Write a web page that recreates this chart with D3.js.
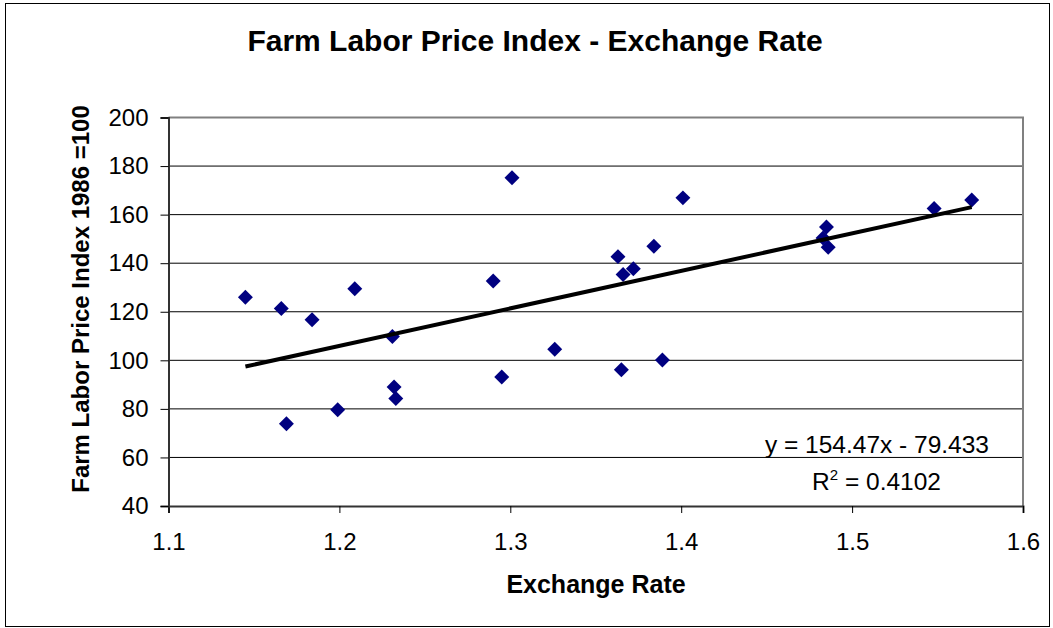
<!DOCTYPE html>
<html>
<head>
<meta charset="utf-8">
<script src="https://cdn.jsdelivr.net/npm/d3@7"></script>
<style>
  body { margin: 0; background: #fff; }
  svg { display: block; font-family: "Liberation Sans", Arial, sans-serif; }
</style>
</head>
<body>
<svg id="chart"></svg>
<script>
// data
let exchangeRate = [1.145, 1.166, 1.184, 1.209, 1.231, 1.232, 1.233, 1.169, 1.199,
                    1.290, 1.301, 1.295, 1.326, 1.365, 1.363, 1.372, 1.366, 1.384,
                    1.389, 1.401, 1.485, 1.483, 1.486, 1.548, 1.570]
let laborIndex = [126.0, 121.3, 116.7, 129.5, 109.8, 89.0, 84.3, 73.9, 79.6,
                  132.7, 175.2, 93.1, 104.6, 96.1, 142.7, 137.7, 135.3, 147.0,
                  100.1, 166.9, 154.9, 150.4, 146.6, 162.5, 166.0]

let xTicks = [1.1, 1.2, 1.3, 1.4, 1.5, 1.6]
let yTicks = [40, 60, 80, 100, 120, 140, 160, 180, 200]

let slope = 154.47
let intercept = -79.433
let rSquared = '0.4102'

let width = 1053
let height = 628
let plotLeft = 168.5, plotRight = 1023, plotTop = 117.5, plotBottom = 506

let data = exchangeRate.map((x, i) => ({x: x, y: laborIndex[i]}))

let svg = d3.select('#chart')
    .attr('width', width)
    .attr('height', height)

// outer chart border
svg.append('rect')
    .attr('x', 5.5).attr('y', 3.5)
    .attr('width', 1044).attr('height', 623)
    .attr('fill', '#fff')
    .attr('stroke', '#000')
    .attr('stroke-width', 1)

let xScale = d3.scaleLinear().domain([1.1, 1.6]).range([plotLeft, plotRight])
let yScale = d3.scaleLinear().domain([40, 200]).range([plotBottom, plotTop])

// gridlines
svg.append('g')
    .selectAll('line')
    .data(yTicks.filter(d => d > 40 && d < 200))
    .enter()
    .append('line')
    .attr('x1', plotLeft).attr('x2', plotRight)
    .attr('y1', d => yScale(d)).attr('y2', d => yScale(d))
    .attr('stroke', '#000')
    .attr('stroke-width', 1)

// plot frame top / right (gray)
svg.append('path')
    .attr('d', 'M' + plotLeft + ',' + plotTop + 'H' + plotRight + 'V' + plotBottom)
    .attr('fill', 'none')
    .attr('stroke', '#808080')
    .attr('stroke-width', 2)

let xAxis = d3.axisBottom(xScale).tickValues(xTicks).tickFormat(d3.format('.1f')).tickSizeOuter(0).tickSize(7).tickPadding(20)
let gx = svg.append('g')
    .attr('transform', 'translate(0,' + plotBottom + ')')
    .call(xAxis)
gx.select('.domain').attr('stroke', '#333').attr('stroke-width', 2)
gx.selectAll('.tick line').attr('stroke', '#000')
gx.selectAll('text').attr('font-size', 24).attr('font-family', '"Liberation Sans", Arial').attr('fill', '#000')

let yAxis = d3.axisLeft(yScale).tickValues(yTicks).tickSizeOuter(0).tickSize(8).tickPadding(12)
let gy = svg.append('g')
    .attr('transform', 'translate(' + plotLeft + ',0)')
    .call(yAxis)
gy.select('.domain').attr('stroke', '#333').attr('stroke-width', 2)
gy.selectAll('.tick line').attr('stroke', '#000')
gy.selectAll('text').attr('font-size', 24).attr('font-family', '"Liberation Sans", Arial').attr('fill', '#000')

// points
svg.append('g')
    .selectAll('path')
    .data(data)
    .enter()
    .append('path')
    .attr('d', d3.symbol().type(d3.symbolSquare).size(112))
    .attr('transform', d => 'translate(' + xScale(d.x) + ',' + yScale(d.y) + ') rotate(45)')
    .attr('fill', '#000080')

// linear trendline
let xMin = d3.min(exchangeRate), xMax = d3.max(exchangeRate)
svg.append('line')
    .attr('x1', xScale(xMin)).attr('y1', yScale(slope * xMin + intercept))
    .attr('x2', xScale(xMax)).attr('y2', yScale(slope * xMax + intercept))
    .attr('stroke', '#000')
    .attr('stroke-width', 4)

// equation labels
svg.append('text')
    .attr('x', 989).attr('y', 453)
    .attr('text-anchor', 'end')
    .attr('font-size', 24.5)
    .text('y = ' + slope + 'x - ' + Math.abs(intercept))

let r2 = svg.append('text')
    .attr('x', 941).attr('y', 490)
    .attr('text-anchor', 'end')
    .attr('font-size', 24.5)
r2.append('tspan').text('R')
r2.append('tspan').attr('font-size', 15).attr('dy', -10).text('2')
r2.append('tspan').attr('dy', 10).text(' = ' + rSquared)

// titles
svg.append('text')
    .attr('x', 535).attr('y', 51)
    .attr('text-anchor', 'middle')
    .attr('font-size', 30)
    .attr('font-weight', 'bold')
    .text('Farm Labor Price Index - Exchange Rate')

svg.append('text')
    .attr('x', 596).attr('y', 593)
    .attr('text-anchor', 'middle')
    .attr('font-size', 25)
    .attr('font-weight', 'bold')
    .text('Exchange Rate')

svg.append('text')
    .attr('transform', 'translate(89,299) rotate(-90)')
    .attr('text-anchor', 'middle')
    .attr('font-size', 24)
    .attr('font-weight', 'bold')
    .text('Farm Labor Price Index 1986 =100')
</script>
</body>
</html>
